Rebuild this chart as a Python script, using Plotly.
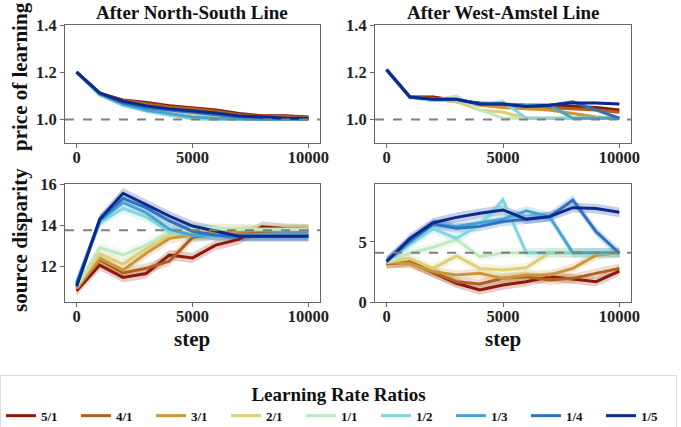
import plotly.graph_objects as go

steps = [0, 1000, 2000, 3000, 4000, 5000, 6000, 7000, 8000, 9000, 10000]
ratios = ["5/1", "4/1", "3/1", "2/1", "1/1", "1/2", "1/3", "1/4", "1/5"]
colors = ["#8c1a0a", "#b0601e", "#c9963a", "#dccf78", "#c0e8c0",
          "#7fd6dc", "#44a6d0", "#2f70bf", "#0a2a8e"]

price_ns = [
    [1.20, 1.11, 1.082, 1.072, 1.058, 1.05, 1.04, 1.025, 1.015, 1.015, 1.01],
    [1.20, 1.11, 1.08, 1.068, 1.053, 1.045, 1.035, 1.02, 1.012, 1.012, 1.008],
    [1.20, 1.108, 1.075, 1.06, 1.045, 1.035, 1.025, 1.015, 1.008, 1.005, 1.005],
    [1.20, 1.105, 1.07, 1.05, 1.035, 1.02, 1.012, 1.005, 1.003, 1.002, 1.002],
    [1.20, 1.10, 1.065, 1.04, 1.025, 1.01, 1.003, 1.0, 1.0, 1.0, 1.0],
    [1.20, 1.105, 1.06, 1.035, 1.018, 1.003, 1.0, 1.0, 1.0, 1.0, 1.0],
    [1.20, 1.107, 1.065, 1.04, 1.025, 1.01, 1.005, 1.002, 1.0, 1.0, 1.0],
    [1.20, 1.11, 1.07, 1.05, 1.04, 1.03, 1.02, 1.01, 1.005, 1.003, 1.003],
    [1.20, 1.112, 1.077, 1.058, 1.045, 1.037, 1.027, 1.015, 1.01, 1.006, 1.005],
]
price_wa = [
    [1.21, 1.095, 1.095, 1.08, 1.07, 1.065, 1.06, 1.06, 1.055, 1.05, 1.04],
    [1.21, 1.095, 1.09, 1.075, 1.065, 1.06, 1.055, 1.05, 1.045, 1.04, 1.03],
    [1.21, 1.095, 1.085, 1.075, 1.06, 1.05, 1.045, 1.04, 1.025, 1.01, 1.005],
    [1.21, 1.09, 1.085, 1.075, 1.04, 1.03, 1.005, 1.005, 1.005, 1.005, 1.005],
    [1.21, 1.09, 1.08, 1.10, 1.04, 1.005, 1.005, 1.005, 1.005, 1.005, 1.005],
    [1.21, 1.095, 1.08, 1.08, 1.065, 1.075, 1.005, 1.005, 1.005, 1.005, 1.005],
    [1.21, 1.095, 1.085, 1.085, 1.065, 1.065, 1.06, 1.06, 1.005, 1.005, 1.005],
    [1.21, 1.095, 1.085, 1.085, 1.065, 1.065, 1.055, 1.06, 1.075, 1.04, 1.005],
    [1.21, 1.095, 1.085, 1.085, 1.065, 1.065, 1.055, 1.06, 1.07, 1.07, 1.065],
]
disp_ns = [
    [10.8, 12.05, 11.45, 11.64, 12.54, 12.4, 13.02, 13.3, 13.92, 13.82, 13.8],
    [10.9, 12.3, 11.67, 11.89, 12.24, 13.4, 13.55, 13.6, 13.7, 13.75, 13.75],
    [10.9, 12.37, 11.8, 12.62, 13.35, 13.51, 13.6, 13.7, 13.75, 13.75, 13.75],
    [11.0, 12.6, 12.1, 12.85, 13.5, 13.7, 13.8, 13.8, 13.8, 13.8, 13.8],
    [11.0, 12.9, 12.54, 13.02, 13.67, 13.83, 13.85, 13.8, 13.8, 13.8, 13.8],
    [11.2, 14.1, 14.81, 14.4, 13.67, 13.5, 13.5, 13.5, 13.5, 13.5, 13.5],
    [11.2, 14.2, 15.1, 14.6, 13.8, 13.5, 13.5, 13.5, 13.5, 13.5, 13.5],
    [11.1, 14.25, 15.3, 14.85, 14.2, 13.7, 13.5, 13.46, 13.46, 13.46, 13.46],
    [11.0, 14.28, 15.55, 14.98, 14.44, 13.95, 13.72, 13.46, 13.46, 13.46, 13.46],
]
disp_wa = [
    [3.2, 3.36, 2.45, 1.56, 1.0, 1.42, 1.69, 2.11, 1.92, 1.69, 2.58],
    [3.2, 3.3, 2.45, 1.69, 1.5, 1.97, 2.11, 1.83, 1.97, 2.4, 2.8],
    [3.3, 3.2, 2.53, 2.25, 2.4, 1.97, 2.25, 2.25, 2.8, 3.9, 4.1],
    [3.3, 3.6, 2.8, 3.83, 2.8, 2.67, 2.86, 4.1, 4.1, 4.1, 4.1],
    [3.3, 4.08, 4.56, 5.22, 3.78, 4.1, 4.1, 4.1, 4.1, 4.1, 4.1],
    [3.4, 4.8, 6.1, 5.3, 6.4, 8.5, 4.1, 4.1, 4.1, 4.1, 4.1],
    [3.4, 5.0, 6.5, 6.3, 6.6, 6.9, 7.6, 7.1, 4.1, 4.1, 4.1],
    [3.4, 5.1, 6.5, 6.14, 6.3, 6.7, 6.9, 7.1, 8.5, 5.86, 4.06],
    [3.36, 5.3, 6.6, 7.05, 7.39, 7.67, 6.89, 7.11, 7.86, 7.78, 7.47],
]

# band half-widths (shaded spread) per panel
band_price = 0.006
band_ns = 0.25
band_wa = 0.4

ref_price = 1.0
ref_ns = 13.75
ref_wa = 4.1

panel_titles = ["After North-South Line", "After West-Amstel Line"]
x_ticks = [0, 5000, 10000]
x_ticklabels = ["0", "5000", "10000"]

FONT = "Liberation Serif"


def rgba(hexc, a):
    h = hexc.lstrip("#")
    return "rgba(%d,%d,%d,%s)" % (int(h[0:2], 16), int(h[2:4], 16), int(h[4:6], 16), a)


fig = go.Figure()

panels = [
    (price_ns, band_price, "x", "y", True),
    (price_wa, band_price, "x2", "y2", False),
    (disp_ns, band_ns, "x3", "y3", False),
    (disp_wa, band_wa, "x4", "y4", False),
]

for data, bw, xa, ya, show in panels:
    for name, col, vals in zip(ratios, colors, data):
        upper = [v + bw for v in vals]
        lower = [v - bw for v in vals]
        fig.add_trace(go.Scatter(x=steps, y=upper, xaxis=xa, yaxis=ya, mode="lines",
                                 line=dict(width=0, color=col), hoverinfo="skip",
                                 showlegend=False))
        fig.add_trace(go.Scatter(x=steps, y=lower, xaxis=xa, yaxis=ya, mode="lines",
                                 line=dict(width=0, color=col), fill="tonexty",
                                 fillcolor=rgba(col, 0.22), hoverinfo="skip",
                                 showlegend=False))
    for name, col, vals in zip(ratios, colors, data):
        fig.add_trace(go.Scatter(x=steps, y=vals, xaxis=xa, yaxis=ya, mode="lines",
                                 name=name, line=dict(width=3, color=col),
                                 showlegend=show))

W, H = 681, 427
MB = 60             # bottom margin: legend sits below the plot area
PH = H - MB         # plot-area height


def px(xp):
    return xp / W


def py(yp):
    return 1 - yp / PH


xdom_l = [px(65), px(320)]
xdom_r = [px(375), px(631)]
ydom_t = [py(143), py(25)]
ydom_b = [py(302), py(184)]

tickfont = dict(family=FONT, size=16.5, color="#222", weight="bold")
axcommon = dict(showgrid=False, zeroline=False, showline=True, mirror=True,
                linecolor="#666", linewidth=1, ticks="outside", ticklen=4,
                tickcolor="#666", tickfont=tickfont)
xcommon = dict(axcommon, range=[-500, 10500], tickvals=x_ticks, ticktext=x_ticklabels,
               ticklabelstandoff=-5)

fig.update_layout(
    width=W, height=H,
    margin=dict(l=0, r=0, t=0, b=MB, autoexpand=False),
    paper_bgcolor="white", plot_bgcolor="white",
    font=dict(family=FONT, color="#111"),
    xaxis=dict(xcommon, domain=xdom_l, anchor="y"),
    yaxis=dict(axcommon, domain=ydom_t, anchor="x", range=[0.9, 1.4],
               tickvals=[1.0, 1.2, 1.4], ticktext=["1.0", "1.2", "1.4"]),
    xaxis2=dict(xcommon, domain=xdom_r, anchor="y2"),
    yaxis2=dict(axcommon, domain=ydom_t, anchor="x2", range=[0.9, 1.4],
                tickvals=[1.0, 1.2, 1.4], ticktext=["1.0", "1.2", "1.4"]),
    xaxis3=dict(xcommon, domain=xdom_l, anchor="y3"),
    yaxis3=dict(axcommon, domain=ydom_b, anchor="x3", range=[10.25, 16.0],
                tickvals=[12, 14, 16]),
    xaxis4=dict(xcommon, domain=xdom_r, anchor="y4"),
    yaxis4=dict(axcommon, domain=ydom_b, anchor="x4", range=[0, 9.83],
                tickvals=[0, 5]),
    legend=dict(
        orientation="h", x=px(0), xanchor="left", y=py(375), yanchor="top",
        traceorder="normal",
        title=dict(text="Learning Rate Ratios", side="top center",
                   font=dict(family=FONT, size=19, weight="bold")),
        font=dict(family=FONT, size=13, weight="bold"),
        entrywidth=30, entrywidthmode="pixels", itemwidth=30,
        bordercolor="#dddddd", borderwidth=1, bgcolor="white",
        tracegroupgap=0,
    ),
    showlegend=True,
)

# reference dashed lines
for ya, xa, val in [("y", "x", ref_price), ("y2", "x2", ref_price),
                    ("y3", "x3", ref_ns), ("y4", "x4", ref_wa)]:
    fig.add_shape(type="line", xref=xa + " domain", x0=0, x1=1, yref=ya, y0=val, y1=val,
                  line=dict(color="#808080", width=2, dash="dash"), layer="above")

ann_font = dict(family=FONT, size=21, color="#111", weight="bold")
title_font = dict(family=FONT, size=19, color="#111", weight="bold")


def ann(text, xp, yp, font, angle=0):
    fig.add_annotation(text=text, x=xp, y=yp, xref="paper", yref="paper",
                       xanchor="center", yanchor="middle", showarrow=False,
                       textangle=angle, font=font)


ann(panel_titles[0], (xdom_l[0] + xdom_l[1]) / 2, py(12), title_font)
ann(panel_titles[1], (xdom_r[0] + xdom_r[1]) / 2, py(12), title_font)
ann("price of learning", px(20), py(77), ann_font, -90)
ann("source disparity", px(20), py(240), ann_font, -90)
ann("step", (xdom_l[0] + xdom_l[1]) / 2, py(339), ann_font)
ann("step", (xdom_r[0] + xdom_r[1]) / 2, py(339), ann_font)

fig.write_html("out.html", config={"displayModeBar": False},
               post_script="document.body.style.margin='0px';")
